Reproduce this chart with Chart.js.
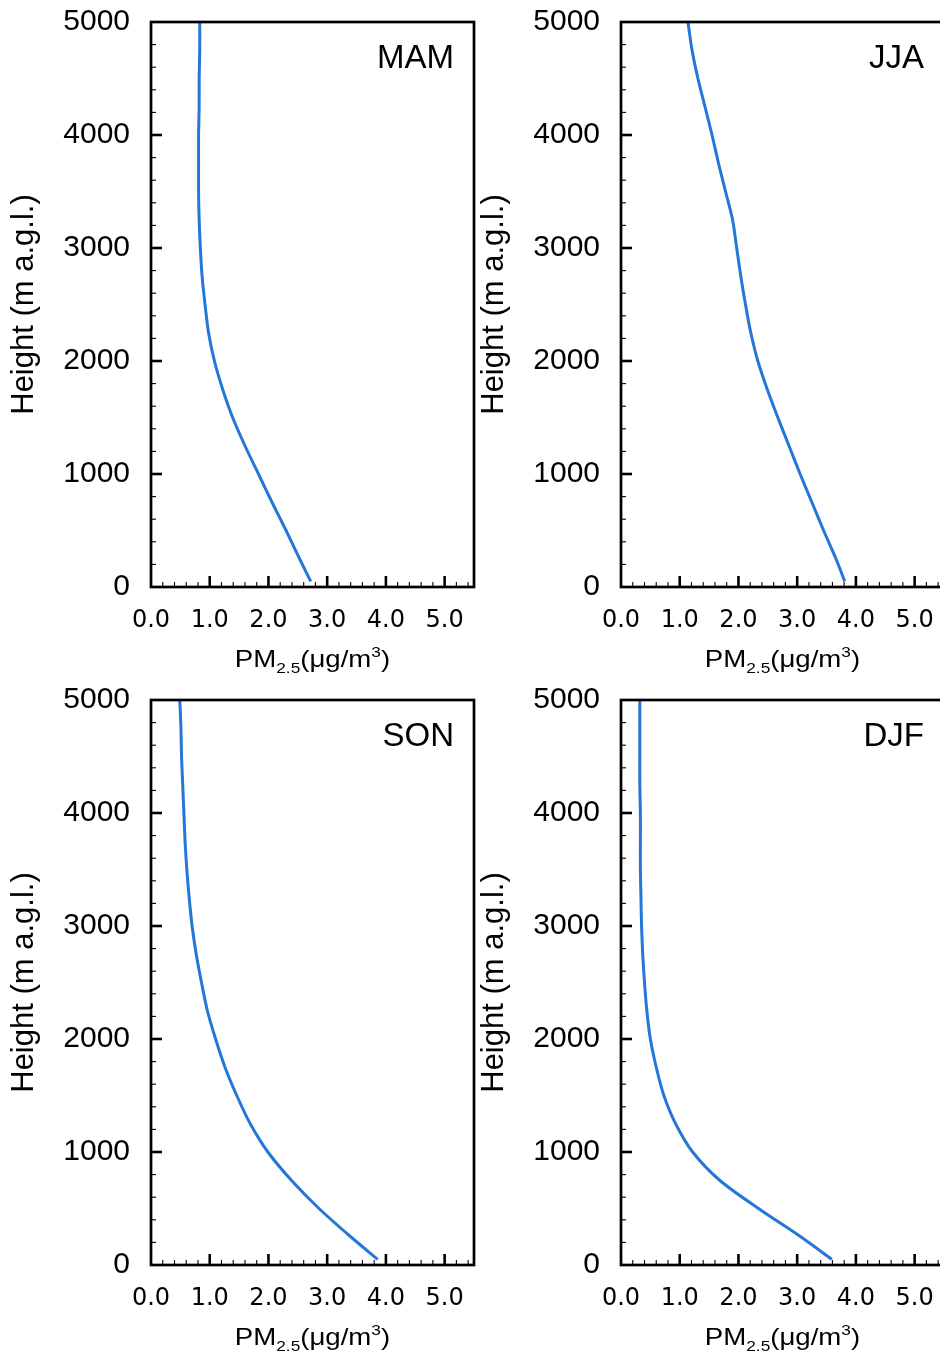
<!DOCTYPE html>
<html>
<head>
<meta charset="utf-8">
<script src="https://cdn.jsdelivr.net/npm/chart.js@4.4.1/dist/chart.umd.min.js"></script>
<style>
  html, body { margin: 0; padding: 0; background: #fff; width: 940px; height: 1358px; overflow: hidden; }
  .panel { position: absolute; width: 484px; }
  .top { top: 0; height: 680px; }
  .bottom { top: 680px; height: 678px; }
  .left { left: 0; }
  .right { left: 470px; }
</style>
</head>
<body>
<div class="panel top left"><canvas id="mam"></canvas></div>
<div class="panel top right"><canvas id="jja"></canvas></div>
<div class="panel bottom left"><canvas id="son"></canvas></div>
<div class="panel bottom right"><canvas id="djf"></canvas></div>
<script>
// Height levels (m above ground level)
const heights = [50, 250, 500, 750, 1000, 1250, 1500, 1750, 2000, 2250, 2500,
                 2750, 3000, 3250, 3500, 3750, 4000, 4250, 4500, 4750, 5000];

// Seasonal mean PM2.5 profiles (ug/m3) at each height level
const pmMAM = [2.72, 2.53, 2.30, 2.06, 1.83, 1.60, 1.39, 1.22, 1.08, 0.98, 0.92,
               0.87, 0.84, 0.82, 0.81, 0.81, 0.81, 0.82, 0.82, 0.83, 0.83];
const pmJJA = [3.81, 3.66, 3.45, 3.25, 3.05, 2.86, 2.67, 2.49, 2.33, 2.21, 2.12,
               2.04, 1.97, 1.90, 1.78, 1.66, 1.55, 1.43, 1.31, 1.21, 1.14];
const pmSON = [3.86, 3.40, 2.86, 2.39, 1.99, 1.69, 1.46, 1.26, 1.10, 0.96, 0.86,
               0.77, 0.70, 0.65, 0.61, 0.58, 0.56, 0.54, 0.52, 0.51, 0.49];
const pmDJF = [3.59, 3.06, 2.34, 1.68, 1.22, 0.93, 0.73, 0.60, 0.50, 0.44, 0.40,
               0.37, 0.35, 0.34, 0.33, 0.33, 0.33, 0.32, 0.32, 0.32, 0.32];

const seasons = ['MAM', 'JJA', 'SON', 'DJF'];

// Axis settings
const xMin = 0, xMax = 5.5, xMinorStep = 0.2, xMajorStep = 1;
const yMin = 0, yMax = 5000, yMinorStep = 200, yMajorStep = 1000;
const yTitle = 'Height (m a.g.l.)';

const LINE_COLOR = '#2477d6';
const SANS = '"Liberation Sans", Arial, Helvetica, sans-serif';

function isMultiple(v, step) {
  const r = v / step;
  return Math.abs(r - Math.round(r)) < 1e-6;
}

// Keep the plot area exactly where the layout padding puts it
function noLabelPadding(s) {
  s.paddingTop = 0; s.paddingBottom = 0; s.paddingLeft = 0; s.paddingRight = 0;
}

// Draws PM2.5(ug/m3) with sub/superscripts, slightly widened like the tick labels
function drawPmTitle(ctx, cx, baseline) {
  const big = '24px ' + SANS, small = '15px ' + SANS;
  const parts = [['PM', big, 0], ['2.5', small, 6], ['(\u03BCg/m', big, 0], ['3', small, -10], [')', big, 0]];
  let total = 0;
  const widths = parts.map(([t, f]) => { ctx.font = f; const w = ctx.measureText(t).width; total += w; return w; });
  ctx.save();
  ctx.translate(cx, baseline);
  ctx.scale(1.15, 1);
  ctx.fillStyle = '#000';
  ctx.textAlign = 'left';
  ctx.textBaseline = 'alphabetic';
  let x = -total / 2;
  parts.forEach(([t, f, dy], i) => { ctx.font = f; ctx.fillText(t, x, dy); x += widths[i]; });
  ctx.restore();
}

// Frame, inward major/minor tick marks, x-axis title and season label
const framePlugin = {
  id: 'frame',
  afterDatasetsDraw(chart, args, opts) {
    const { ctx, chartArea: { left, right, top, bottom }, scales: { x, y } } = chart;
    ctx.save();
    ctx.strokeStyle = '#000';
    ctx.lineCap = 'butt';
    x.ticks.forEach(t => {
      const v = t.value;
      if (v <= x.min + 1e-9 || v >= x.max - 1e-9) return;
      const major = isMultiple(v, xMajorStep);
      const px = x.getPixelForValue(v);
      ctx.lineWidth = major ? 2.6 : 1.1;
      ctx.beginPath();
      ctx.moveTo(px, bottom);
      ctx.lineTo(px, bottom - (major ? 11 : 5));
      ctx.stroke();
    });
    y.ticks.forEach(t => {
      const v = t.value;
      if (v <= y.min || v >= y.max) return;
      const major = isMultiple(v, yMajorStep);
      const py = y.getPixelForValue(v);
      ctx.lineWidth = major ? 2.6 : 1.1;
      ctx.beginPath();
      ctx.moveTo(left, py);
      ctx.lineTo(left + (major ? 11 : 5), py);
      ctx.stroke();
    });
    ctx.lineWidth = 2.7;
    ctx.strokeRect(left, top, right - left, bottom - top);

    drawPmTitle(ctx, (left + right) / 2, bottom + 80);

    ctx.fillStyle = '#000';
    ctx.font = '33px ' + SANS;
    ctx.textAlign = 'right';
    ctx.textBaseline = 'alphabetic';
    ctx.fillText(opts.label, right - 20, top + 46);
    ctx.restore();
  }
};

function makePanel(id, label, values, padTop) {
  const points = heights.map((h, i) => ({ x: values[i], y: h }));
  return new Chart(document.getElementById(id), {
    type: 'scatter',
    data: {
      datasets: [{
        data: points,
        showLine: true,
        borderColor: LINE_COLOR,
        borderWidth: 3,
        pointRadius: 0,
        tension: 0.3,
        fill: false
      }]
    },
    options: {
      responsive: true,
      maintainAspectRatio: false,
      animation: false,
      layout: { padding: { left: 0, right: 10, top: padTop, bottom: 0 } },
      plugins: {
        legend: { display: false },
        tooltip: { enabled: false },
        frame: { label: label }
      },
      scales: {
        x: {
          type: 'linear', min: xMin, max: xMax,
          afterFit(s) { s.height = 93; noLabelPadding(s); },
          grid: { display: false, drawTicks: false },
          border: { display: false },
          ticks: {
            stepSize: xMinorStep, includeBounds: false, autoSkip: false,
            maxRotation: 0, minRotation: 0, padding: 19, color: '#000',
            font: { family: '"DejaVu Sans"', size: 24 },
            callback: v => isMultiple(v, xMajorStep) ? Number(v).toFixed(1) : ''
          }
        },
        y: {
          type: 'linear', min: yMin, max: yMax,
          afterFit(s) { s.width = 151; noLabelPadding(s); },
          grid: { display: false, drawTicks: false },
          border: { display: false },
          ticks: {
            stepSize: yMinorStep, includeBounds: false, autoSkip: false,
            padding: 21, color: '#000',
            font: { family: SANS, size: 30 },
            callback: v => isMultiple(v, yMajorStep) ? String(Math.round(v)) : ''
          },
          title: {
            display: true, text: yTitle, color: '#000',
            font: { family: SANS, size: 31 },
            padding: { top: 6, bottom: 0 }
          }
        }
      }
    },
    plugins: [framePlugin]
  });
}

makePanel('mam', seasons[0], pmMAM, 22);
makePanel('jja', seasons[1], pmJJA, 22);
makePanel('son', seasons[2], pmSON, 20);
makePanel('djf', seasons[3], pmDJF, 20);
</script>
</body>
</html>
